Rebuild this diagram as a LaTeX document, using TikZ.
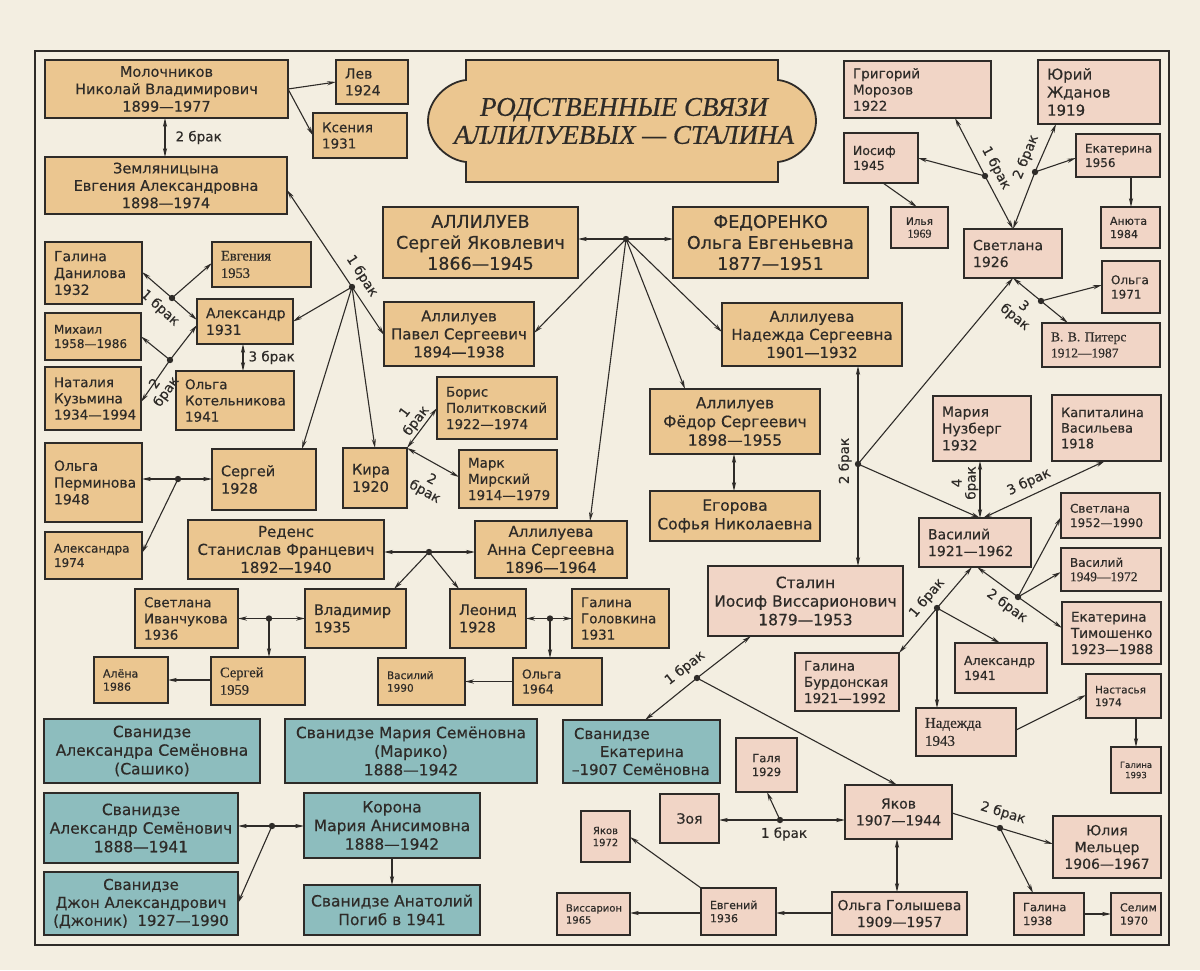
\documentclass[tikz,border=0pt]{standalone}
\usepackage{fontspec}
\setmainfont[FakeBold=0.4]{DejaVu Sans}
\newfontfamily\rmx[FakeBold=0.4]{Liberation Serif}
\usetikzlibrary{arrows.meta,calc}
\definecolor{paper}{HTML}{F3EEE1}
\definecolor{tanc}{HTML}{EBC690}
\definecolor{pinkc}{HTML}{F1D5C6}
\definecolor{tealc}{HTML}{8DBDBE}
\definecolor{inkc}{HTML}{2E2B28}
\exhyphenpenalty=10000 \hyphenpenalty=10000
\newcommand\bxl[8]{%
 \pgfmathsetmacro\bxW{#5-#3}\pgfmathsetmacro\bxH{#6-#4}\pgfmathsetmacro\bxT{#5-#3-18}%
 \pgfmathsetmacro\bxX{(#3+#5)/2}\pgfmathsetmacro\bxY{(#4+#6)/2}\pgfmathsetmacro\bxL{#7*1.2}%
 \node[#2, minimum width=\bxW pt, minimum height=\bxH pt, text width=\bxT pt, align=left, font=\fontsize{#7}{\bxL}\selectfont] (#1) at (\bxX,\bxY) {#8};}
\newcommand\bxc[8]{%
 \pgfmathsetmacro\bxW{#5-#3}\pgfmathsetmacro\bxH{#6-#4}%
 \pgfmathsetmacro\bxX{(#3+#5)/2}\pgfmathsetmacro\bxY{(#4+#6)/2}\pgfmathsetmacro\bxL{#7*1.2}%
 \node[#2, minimum width=\bxW pt, minimum height=\bxH pt, align=center, font=\fontsize{#7}{\bxL}\selectfont] (#1) at (\bxX,\bxY) {#8};}
\begin{document}
\begin{tikzpicture}[x=1pt,y=-1pt,
 bxs/.style={draw=inkc, line width=1.8pt, inner sep=0pt, outer sep=0pt, text=inkc},
 tanb/.style={bxs, fill=tanc}, pinkb/.style={bxs, fill=pinkc}, tealb/.style={bxs, fill=tealc},
 con/.style={draw=inkc, line width=1.1pt},
 arr/.style={con, -{Stealth[length=9pt,width=4.2pt]}},
 darr/.style={con, {Stealth[length=9pt,width=4.2pt]}-{Stealth[length=9pt,width=4.2pt]}},
 lab/.style={font=\fontsize{13.5}{14}\selectfont, text=inkc, inner sep=0pt, align=center}]
\useasboundingbox (0,0) rectangle (1200,970);
\fill[paper] (0,0) rectangle (1200,970);
\draw[inkc, line width=1.4pt] (35,51) rectangle (1169,945);
% title
\draw[inkc, line width=1.8pt, fill=tanc] (466,60) -- (778,60) -- (778,80) .. controls (797,82) and (816,100) .. (816,121) .. controls (816,142) and (797,160) .. (778,162) -- (778,182) -- (466,182) -- (466,162) .. controls (447,160) and (428,142) .. (428,121) .. controls (428,100) and (447,82) .. (466,80) -- cycle;
\node[font=\fontsize{27}{28}\selectfont\rmx\itshape, align=center, text=inkc] (title) at (624,121) {РОДСТВЕННЫЕ СВЯЗИ\\АЛЛИЛУЕВЫХ — СТАЛИНА};
% tan boxes
\bxc{mol}{tanb}{45}{60}{288}{118}{14.5}{Молочников\\Николай Владимирович\\1899—1977}
\bxl{lev}{tanb}{336}{60}{408}{104}{14}{Лев\\1924}
\bxl{ksen}{tanb}{313}{113}{407}{158}{13.5}{Ксения\\1931}
\bxc{zeml}{tanb}{45}{157}{287}{214}{14.5}{Земляницына\\Евгения Александровна\\1898—1974}
\bxl{galD}{tanb}{45}{242}{142}{304}{14}{Галина\\Данилова\\1932}
\bxl{evg}{tanb}{212}{242}{311}{287}{14.5}{\rmx Евгения\\1953}
\bxl{alek}{tanb}{197}{299}{293}{344}{14}{Александр\\1931}
\bxl{mikh}{tanb}{45}{313}{141}{360}{12}{Михаил\\\mbox{1958—1986}}
\bxl{nat}{tanb}{45}{367}{141}{430}{13.5}{Наталия\\Кузьмина\\\mbox{1934—1994}}
\bxl{kotel}{tanb}{176}{371}{294}{430}{13.5}{Ольга\\Котельникова\\1941}
\bxl{perm}{tanb}{45}{443}{142}{522}{14}{Ольга\\Перминова\\1948}
\bxl{sasha74}{tanb}{45}{532}{142}{579}{12}{Александра\\1974}
\bxl{serg28}{tanb}{212}{449}{316}{510}{14.5}{Сергей\\1928}
\bxl{kira}{tanb}{343}{448}{407}{508}{14.5}{Кира\\1920}
\bxc{ser}{tanb}{383}{207}{578}{278}{17.5}{АЛЛИЛУЕВ\\Сергей Яковлевич\\1866—1945}
\bxc{fed}{tanb}{673}{207}{868}{278}{17.5}{ФЕДОРЕНКО\\Ольга Евгеньевна\\1877—1951}
\bxc{pav}{tanb}{384}{302}{534}{366}{15}{Аллилуев\\Павел Сергеевич\\1894—1938}
\bxc{nad}{tanb}{722}{303}{902}{366}{15}{Аллилуева\\Надежда Сергеевна\\1901—1932}
\bxc{fyod}{tanb}{650}{389}{820}{454}{15.5}{Аллилуев\\Фёдор Сергеевич\\1898—1955}
\bxc{egor}{tanb}{650}{491}{820}{541}{15.5}{Егорова\\Софья Николаевна}
\bxl{boris}{tanb}{437}{377}{557}{439}{13.5}{Борис\\Политковский\\\mbox{1922—1974}}
\bxl{mark}{tanb}{459}{450}{557}{508}{13.5}{Марк\\Мирский\\\mbox{1914—1979}}
\bxc{anna}{tanb}{475}{521}{627}{578}{15}{Аллилуева\\Анна Сергеевна\\1896—1964}
\bxc{red}{tanb}{188}{520}{384}{579}{15}{Реденс\\Станислав Францевич\\1892—1940}
\bxl{svIv}{tanb}{135}{589}{238}{648}{13.5}{Светлана\\Иванчукова\\1936}
\bxl{vlad}{tanb}{305}{589}{406}{648}{14.5}{Владимир\\1935}
\bxl{alena}{tanb}{94}{657}{168}{703}{11}{Алёна\\1986}
\bxl{serg59}{tanb}{211}{657}{305}{705}{14.5}{\rmx Сергей\\1959}
\bxl{leon}{tanb}{450}{589}{526}{648}{14.5}{Леонид\\1928}
\bxl{golov}{tanb}{572}{589}{669}{648}{13.5}{Галина\\Головкина\\1931}
\bxl{olga64}{tanb}{513}{658}{602}{705}{12.5}{Ольга\\1964}
\bxl{vas90}{tanb}{378}{658}{465}{705}{10.5}{Василий\\1990}
% pink boxes
\bxl{moroz}{pinkb}{844}{61}{991}{118}{13.5}{Григорий\\Морозов\\1922}
\bxl{zhd}{pinkb}{1038}{60}{1160}{124}{15}{Юрий\\Жданов\\1919}
\bxl{ios}{pinkb}{844}{133}{918}{183}{12.5}{Иосиф\\1945}
\bxc{ilya}{pinkb}{891}{207}{948}{248}{10.5}{Илья\\{\rmx\fontsize{12}{12}\selectfont 1969}}
\bxl{svet26}{pinkb}{964}{229}{1062}{278}{14}{Светлана\\1926}
\bxl{ekat56}{pinkb}{1076}{134}{1160}{177}{12}{Екатерина\\1956}
\bxl{anyuta}{pinkb}{1101}{207}{1160}{248}{11}{Анюта\\1984}
\bxl{olga71}{pinkb}{1102}{261}{1160}{313}{12}{Ольга\\1971}
\bxl{piters}{pinkb}{1042}{323}{1160}{367}{13.5}{\rmx В.~В.~Питерс\\\mbox{1912—1987}}
\bxl{nuzb}{pinkb}{933}{396}{1031}{461}{14}{Мария\\Нузберг\\1932}
\bxl{kapit}{pinkb}{1052}{395}{1161}{461}{13}{Капиталина\\Васильева\\1918}
\bxl{vas21}{pinkb}{919}{518}{1031}{567}{14}{Василий\\\mbox{1921—1962}}
\bxl{svet52}{pinkb}{1061}{493}{1160}{538}{12}{Светлана\\\mbox{1952—1990}}
\bxl{vas49}{pinkb}{1061}{548}{1161}{591}{12}{Василий\\\mbox{\rmx\fontsize{13.5}{14}\selectfont 1949—1972}}
\bxl{timosh}{pinkb}{1062}{602}{1161}{664}{13.5}{Екатерина\\Тимошенко\\\mbox{1923—1988}}
\bxc{stalin}{pinkb}{708}{566}{903}{636}{15.5}{Сталин\\Иосиф Виссарионович\\1879—1953}
\bxl{burd}{pinkb}{795}{653}{899}{711}{13.5}{Галина\\Бурдонская\\\mbox{1921—1992}}
\bxl{alek41}{pinkb}{955}{643}{1047}{693}{12.5}{Александр\\1941}
\bxl{nadezh}{pinkb}{916}{708}{1016}{756}{15}{\rmx Надежда\\1943}
\bxl{nastas}{pinkb}{1086}{674}{1161}{718}{10.5}{Настасья\\1974}
\bxc{gal93}{pinkb}{1111}{747}{1161}{793}{8.5}{Галина\\1993}
\bxc{galya}{pinkb}{736}{738}{797}{792}{11.5}{Галя\\1929}
\bxc{zoya}{pinkb}{660}{794}{719}{843}{14}{Зоя}
\bxc{yakov}{pinkb}{845}{785}{952}{839}{14}{Яков\\1907—1944}
\bxc{yulia}{pinkb}{1053}{816}{1161}{878}{14}{Юлия\\Мельцер\\1906—1967}
\bxc{golysh}{pinkb}{832}{892}{967}{935}{14}{Ольга Голышева\\1909—1957}
\bxl{evgen}{pinkb}{701}{888}{776}{935}{11}{Евгений\\1936}
\bxl{viss}{pinkb}{557}{893}{630}{935}{10}{Виссарион\\1965}
\bxc{yak72}{pinkb}{581}{811}{630}{862}{10}{Яков\\1972}
\bxl{gal38}{pinkb}{1014}{893}{1084}{935}{11.5}{Галина\\1938}
\bxl{selim}{pinkb}{1111}{893}{1161}{935}{11}{Селим\\1970}
% teal boxes
\bxc{sashiko}{tealb}{44}{719}{260}{783}{15.5}{Сванидзе\\Александра Семёновна\\(Сашико)}
\bxc{mariko}{tealb}{285}{719}{537}{783}{15.5}{Сванидзе Мария Семёновна\\(Марико)\\1888—1942}
\bxc{alexS}{tealb}{44}{793}{238}{863}{15.5}{Сванидзе\\Александр Семёнович\\1888—1941}
\bxc{korona}{tealb}{304}{793}{480}{858}{15.5}{Корона\\Мария Анисимовна\\1888—1942}
\bxc{jonik}{tealb}{44}{872}{238}{935}{15}{Сванидзе\\Джон Александрович\\(Джоник)\ \ 1927—1990}
\bxc{anat}{tealb}{304}{885}{480}{935}{15.5}{Сванидзе Анатолий\\Погиб в 1941}
\bxl{ekatS}{tealb}{563}{720}{720}{783}{15}{\hspace*{2pt}Сванидзе\\\hspace*{28pt}Екатерина\\\mbox{–1907~Семёновна}}
% junction points
\coordinate (dA) at (352,287);
\coordinate (dB) at (172,298);
\coordinate (dC) at (170,360);
\coordinate (dD) at (178,479);
\coordinate (dE) at (626,239);
\coordinate (dF) at (429,552);
\coordinate (dG) at (269,618.5);
\coordinate (dH) at (550,618.5);
\coordinate (dI) at (272,826);
\coordinate (dJ) at (858,464);
\coordinate (dK) at (1018,597);
\coordinate (dL) at (937,608);
\coordinate (dM) at (985,176);
\coordinate (dN) at (1035,172);
\coordinate (dO) at (1041,301);
\coordinate (dP) at (697,678);
\coordinate (dQ) at (780,820);
\coordinate (dR) at (1000,828);
% upper left connectors
\draw[arr] (mol.east) -- (lev.west);
\draw[arr] (mol.east) -- (ksen.west);
\draw[darr] ($(mol.south west)+(120,0)$) -- ($(zeml.north west)+(120,0)$) node[lab, midway, anchor=west, xshift=10pt] (l01) {2 брак};
\draw[darr] ($(zeml.north east)+(0,33)$) -- (dA) -- ($(pav.north west)+(0,33)$);
\node[lab, rotate=-57] (l02) at (362,276) {1 брак};
\draw[arr] (dA) -- (alek.east);
\draw[arr] (dA) -- ($(serg28.north west)+(90,0)$);
\draw[arr] (dA) -- (kira.north);
\draw[darr] ($(galD.north east)+(0,30)$) -- (dB) -- ($(alek.north west)+(0,21)$);
\draw[arr] (dB) -- ($(evg.north west)+(0,21)$);
\node[lab, rotate=-42] (l03) at (160,308) {1 брак};
\draw[darr] ($(nat.north east)+(0,35)$) -- (dC) -- ($(alek.north west)+(0,26)$);
\draw[arr] (dC) -- (mikh.east);
\node[lab, rotate=54.5] (l04) at (161,388) {2\\брак};
\draw[darr] ($(alek.south west)+(46,0)$) -- ($(kotel.north west)+(67,0)$) node[lab, midway, anchor=west, xshift=5pt] (l05) {3 брак};
\draw[darr] ($(perm.north east)+(0,36)$) -- (dD) -- ($(serg28.north west)+(0,30)$);
\draw[arr] (dD) -- ($(sasha74.north east)+(0,21)$);
\draw[darr] (kira.north east) -- ($(boris.north west)+(0,31)$);
\node[lab, rotate=53] (l06) at (411,417) {1\\брак};
\draw[darr] (kira.north east) -- ($(mark.north west)+(0,27)$);
\node[lab, rotate=-29] (l07) at (428,486) {2\\брак};
% Alliluev family
\draw[darr] ($(ser.north east)+(0,32)$) -- (dE) -- ($(fed.north west)+(0,32)$);
\draw[arr] (dE) -- ($(pav.north east)+(0,31)$);
\draw[arr] (dE) -- ($(anna.north west)+(115,0)$);
\draw[arr] (dE) -- ($(fyod.north west)+(35,0)$);
\draw[arr] (dE) -- ($(nad.north west)+(0,29)$);
\draw[darr] ($(fyod.south west)+(84,0)$) -- ($(egor.north west)+(84,0)$);
\draw[darr] ($(red.north east)+(0,32)$) -- (dF) -- ($(anna.north west)+(0,31)$);
\draw[arr] (dF) -- ($(vlad.north west)+(89,0)$);
\draw[arr] (dF) -- ($(leon.north west)+(9,0)$);
\draw[darr] (svIv.east) -- (dG) -- (vlad.west);
\draw[arr] (dG) -- ($(serg59.north west)+(58,0)$);
\draw[arr] ($(serg59.north west)+(0,23)$) -- ($(alena.north east)+(0,23)$);
\draw[darr] (leon.east) -- (dH) -- (golov.west);
\draw[arr] (dH) -- ($(olga64.north west)+(37,0)$);
\draw[arr] (olga64.west) -- (vas90.east);
% Svanidze
\draw[darr] ($(alexS.north east)+(0,33)$) -- (dI) -- ($(korona.north west)+(0,33)$);
\draw[arr] (dI) -- ($(jonik.north east)+(0,31)$);
\draw[arr] (korona.south) -- (anat.north);
% Stalin
\draw[darr] ($(nad.south west)+(136,0)$) -- (dJ) -- ($(stalin.north west)+(150,0)$);
\node[lab, rotate=90] (l08) at (845,461) {2 брак};
\draw[arr] (dJ) -- ($(svet26.south west)+(49,0)$);
\draw[arr] (dJ) -- ($(vas21.north west)+(61,0)$);
\draw[darr] ($(nuzb.south west)+(47,0)$) -- ($(vas21.north west)+(61,0)$);
\node[lab, rotate=90] (l09) at (965,483) {4\\брак};
\draw[darr] ($(kapit.south west)+(53,0)$) -- ($(vas21.north west)+(64,0)$);
\node[lab, rotate=25] (l10) at (1029,482) {3 брак};
\draw[darr] ($(vas21.south west)+(58,0)$) -- (dK) -- ($(timosh.north west)+(0,26)$);
\draw[arr] (dK) -- ($(svet52.north west)+(0,24)$);
\draw[arr] (dK) -- ($(vas49.north west)+(0,24)$);
\node[lab, rotate=-36] (l11) at (1007,606) {2 брак};
\draw[darr] (burd.north east) -- (dL) -- ($(vas21.south west)+(53,0)$);
\draw[arr] (dL) -- ($(nadezh.north west)+(21,0)$);
\draw[arr] (dL) -- ($(alek41.north west)+(45,0)$);
\node[lab, rotate=50] (l12) at (927,598) {1 брак};
\draw[arr] ($(nadezh.north east)+(0,22)$) -- ($(nastas.north west)+(0,21)$);
\draw[arr] ($(nastas.south west)+(50,0)$) -- ($(gal93.north west)+(25,0)$);
% Svetlana
\draw[darr] ($(moroz.south west)+(111,0)$) -- (dM) -- ($(svet26.north west)+(49,0)$);
\draw[arr] (dM) -- ($(ios.north east)+(0,25)$);
\node[lab, rotate=-62] (l13) at (996,168) {1 брак};
\draw[darr] ($(zhd.south west)+(18,0)$) -- (dN) -- ($(svet26.north west)+(49,0)$);
\draw[arr] (dN) -- ($(ekat56.north west)+(0,24)$);
\node[lab, rotate=68] (l14) at (1026,157) {2 брак};
\draw[arr] ($(ios.south west)+(39,0)$) -- ($(ilya.north west)+(26,0)$);
\draw[arr] ($(ekat56.south west)+(55,0)$) -- ($(anyuta.north west)+(30,0)$);
\draw[darr] ($(svet26.south west)+(49,0)$) -- (dO) -- ($(piters.north west)+(26,0)$);
\draw[arr] (dO) -- ($(olga71.north west)+(0,24)$);
\node[lab, rotate=-39] (l15) at (1019,312) {3\\брак};
% Yakov
\draw[darr] ($(stalin.south west)+(43,0)$) -- (dP) -- ($(ekatS.north west)+(82,0)$);
\draw[arr] (dP) -- ($(yakov.north west)+(52,0)$);
\node[lab, rotate=38] (l16) at (685,668) {1 брак};
\draw[darr] ($(zoya.north east)+(0,26)$) -- (dQ) -- ($(yakov.north west)+(0,35)$);
\draw[arr] (dQ) -- ($(galya.south west)+(31,0)$);
\node[lab] (l17) at (784,834) {1 брак};
\draw[darr] ($(yakov.south west)+(52,0)$) -- ($(golysh.north west)+(65,0)$);
\draw[arr] ($(golysh.north west)+(0,21)$) -- ($(evgen.north east)+(0,25)$);
\draw[arr] ($(evgen.north west)+(0,25)$) -- ($(viss.north east)+(0,20)$);
\draw[arr] (evgen.north west) -- ($(yak72.north east)+(0,26)$);
\draw[arr] ($(yakov.north east)+(0,28)$) -- (dR) -- ($(yulia.north west)+(0,28)$);
\draw[arr] (dR) -- ($(gal38.north west)+(19,0)$);
\node[lab, rotate=-17] (l18) at (1003,813) {2 брак};
\draw[arr] ($(gal38.north east)+(0,21)$) -- ($(selim.north west)+(0,21)$);
% dots
\foreach \d in {dA,dB,dC,dD,dE,dF,dG,dH,dI,dJ,dK,dL,dM,dN,dO,dP,dQ,dR}
  \fill[inkc] (\d) circle (3.2pt);
\end{tikzpicture}
\end{document}
